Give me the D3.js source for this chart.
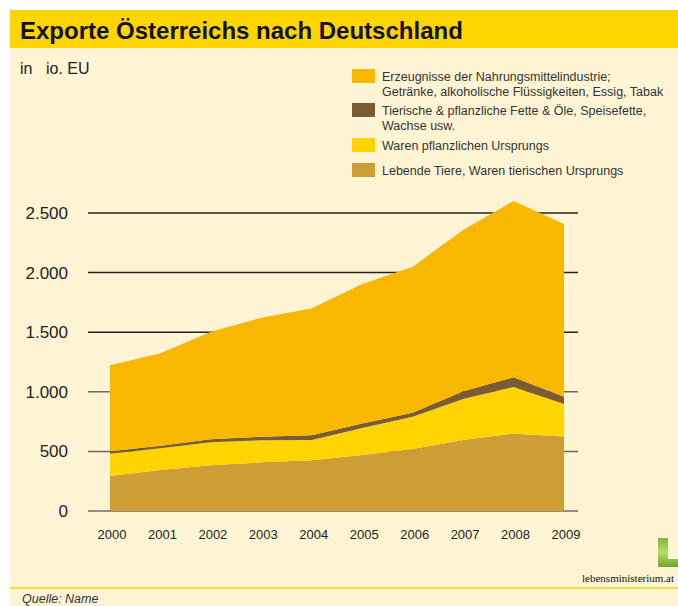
<!DOCTYPE html>
<html>
<head>
<meta charset="utf-8">
<script src="https://cdn.jsdelivr.net/npm/d3@7"></script>
<style>
  body { margin: 0; background: #fff; }
  text { font-family: "Liberation Sans", Arial, sans-serif; }
</style>
</head>
<body>
<div id="chart"></div>
<script>
// data (Mio. EUR)
var years = [2000, 2001, 2002, 2003, 2004, 2005, 2006, 2007, 2008, 2009];
var lebende = [294, 344, 383, 408, 425, 470, 520, 596, 649, 624];
var waren = [187, 182, 193, 185, 171, 226, 271, 344, 391, 274];
var fette = [20, 22, 25, 30, 39, 38, 34, 64, 82, 61];
var erzeugnisse = [721, 775, 903, 999, 1065, 1170, 1225, 1353, 1479, 1449];
var yTicks = [0, 500, 1000, 1500, 2000, 2500];

var keys = ["lebende", "waren", "fette", "erzeugnisse"];
var colors = { erzeugnisse: "#f9b800", fette: "#7a5b33", waren: "#ffd400", lebende: "#cd9d36" };
var legendItems = [
  { key: "erzeugnisse", lines: ["Erzeugnisse der Nahrungsmittelindustrie;", "Getränke, alkoholische Flüssigkeiten, Essig, Tabak"] },
  { key: "fette", lines: ["Tierische & pflanzliche Fette & Öle, Speisefette,", "Wachse usw."] },
  { key: "waren", lines: ["Waren pflanzlichen Ursprungs"] },
  { key: "lebende", lines: ["Lebende Tiere, Waren tierischen Ursprungs"] }
];

var table = years.map(function (y, i) {
  return { year: y, lebende: lebende[i], waren: waren[i], fette: fette[i], erzeugnisse: erzeugnisse[i] };
});

var svg = d3.select("#chart").append("svg").attr("width", 678).attr("height", 606);

// background panel + title band
svg.append("rect").attr("x", 10).attr("y", 10).attr("width", 668).attr("height", 596).attr("fill", "#fff5d5");
svg.append("rect").attr("x", 10).attr("y", 10).attr("width", 668).attr("height", 38).attr("fill", "#ffd500");
svg.append("text").attr("x", 20).attr("y", 39).attr("font-size", 24).attr("font-weight", "bold")
  .attr("fill", "#111").text("Exporte Österreichs nach Deutschland");
svg.append("text").attr("x", 20).attr("y", 74).attr("font-size", 16).attr("fill", "#222").text("in");
svg.append("text").attr("x", 46).attr("y", 74).attr("font-size", 16).attr("fill", "#222").text("io. EU");

var x = d3.scaleLinear().domain([2000, 2009]).range([110, 564]);
var y = d3.scaleLinear().domain([0, 2500]).range([511, 213]);

// grid lines
svg.append("g").selectAll("line").data(yTicks).enter().append("line")
  .attr("x1", 88).attr("x2", 578)
  .attr("y1", function (d) { return y(d); }).attr("y2", function (d) { return y(d); })
  .attr("stroke", function (d) { return d >= 1500 ? "#222" : "#6e6a60"; })
  .attr("stroke-width", 1.5);

svg.append("g").selectAll("text").data(yTicks).enter().append("text")
  .attr("x", 68).attr("y", function (d) { return y(d) + 6; })
  .attr("text-anchor", "end").attr("font-size", 17).attr("fill", "#222")
  .text(function (d) { return d3.format(",")(d).replace(/,/g, "."); });

// stacked areas
var series = d3.stack().keys(keys)(table);
var area = d3.area()
  .x(function (d) { return x(d.data.year); })
  .y0(function (d) { return y(d[0]); })
  .y1(function (d) { return y(d[1]); });

svg.append("g").selectAll("path").data(series).enter().append("path")
  .attr("d", area)
  .attr("fill", function (d) { return colors[d.key]; });

// x labels
svg.append("g").selectAll("text").data(years).enter().append("text")
  .attr("x", function (d) { return x(d) + 2; }).attr("y", 539)
  .attr("text-anchor", "middle").attr("font-size", 13).attr("fill", "#222")
  .text(function (d) { return d; });

// legend
var lg = svg.append("g");
var ly = [69, 103, 138, 163];
legendItems.forEach(function (item, i) {
  lg.append("rect").attr("x", 352).attr("y", ly[i]).attr("width", 23).attr("height", 14)
    .attr("fill", colors[item.key]);
  item.lines.forEach(function (t, j) {
    lg.append("text").attr("x", 382).attr("y", ly[i] + 12 + j * 15)
      .attr("font-size", 12.5).attr("fill", "#333").text(t);
  });
});

// logo
var grad = svg.append("defs").append("linearGradient").attr("id", "lg").attr("x1", 0).attr("y1", 0).attr("x2", 0).attr("y2", 1);
grad.append("stop").attr("offset", "0").attr("stop-color", "#7fb832");
grad.append("stop").attr("offset", "0.5").attr("stop-color", "#b5dc6a");
grad.append("stop").attr("offset", "1").attr("stop-color", "#6fa82a");
svg.append("path").attr("d", "M658,538 H668 V559 H678 V567 H658 Z").attr("fill", "url(#lg)");
svg.append("text").attr("x", 674).attr("y", 582).attr("text-anchor", "end")
  .style("font-family", "'Liberation Serif', serif").attr("font-size", 11).attr("fill", "#111")
  .text("lebensministerium.at");

// footer
svg.append("line").attr("x1", 10).attr("x2", 678).attr("y1", 588).attr("y2", 588)
  .attr("stroke", "#ffd500").attr("stroke-width", 1.5);
svg.append("text").attr("x", 22).attr("y", 603).attr("font-size", 12.5).attr("font-style", "italic")
  .attr("fill", "#333").text("Quelle: Name");
</script>
</body>
</html>
